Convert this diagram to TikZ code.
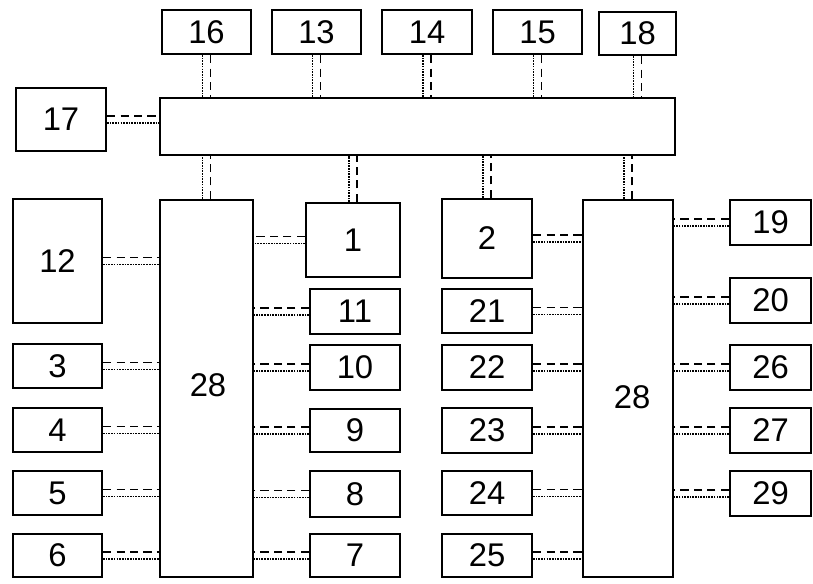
\documentclass[tikz,border=0pt]{standalone}
\usepackage{fontspec}
\setmainfont{Liberation Sans}
\usetikzlibrary{positioning}
\tikzset{
  unit/.style={rectangle, draw=black, line width=1.8pt, fill=white, inner sep=0pt,
               minimum width=2.7cm, minimum height=1.32cm,
               font=\fontsize{28}{32}\selectfont},
  edgeunit/.style={unit, minimum width=2.43cm, minimum height=1.35cm},
  hub/.style={unit, minimum width=2.79cm, minimum height=11.31cm},
  busbar/.style={unit, minimum width=15.45cm, minimum height=1.71cm},
  tag/.style={font=\fontsize{28}{32}\selectfont, inner sep=0pt},
  dashlink/.style={line width=1.3pt, dash pattern=on 7pt off 4.5pt},
  dotlink/.style={line width=1.3pt, dash pattern=on 1.4pt off 0.9pt},
}
% double line: dashed above, dotted below
\newcommand{\hpair}[2]{%
  \draw[dashlink] ([yshift=3pt]#1) -- ([yshift=3pt]#1 -| #2);
  \draw[dotlink] ([yshift=-3pt]#1) -- ([yshift=-3pt]#1 -| #2);}
% double line: dotted left, dashed right
\newcommand{\vpair}[2]{%
  \draw[dotlink] ([xshift=-3.5pt]#1) -- ([xshift=-3.5pt]#1 |- #2);
  \draw[dashlink] ([xshift=3.5pt]#1) -- ([xshift=3.5pt]#1 |- #2);}

\begin{document}
\begin{tikzpicture}[x=0.03cm, y=-0.03cm]
\useasboundingbox (0,0) rectangle (813,583);

% bus and top row
\node[busbar] (bus) at (417.5,126.5) {};
\node[unit, minimum width=2.67cm] (u16) at (206.5,32) {16};
\node[unit, minimum width=2.67cm] (u13) at (316.5,32) {13};
\node[unit] (u14) at (427,32) {14};
\node[unit, minimum width=2.67cm] (u15) at (537.5,32) {15};
\node[unit, minimum width=2.31cm, minimum height=1.29cm] (u18) at (637.5,33.5) {18};
\node[unit, minimum height=1.89cm] (u17) at (61,119.5) {17};

% left group
\node[hub] (hubL) at (206.5,388.5) {};
\node[tag] (tagL) at (208,385) {28};
\node[unit, minimum width=2.67cm, minimum height=3.72cm] (u12) at (57.5,261) {12};
\node[unit, minimum width=2.67cm] (u3) at (57.5,366) {3};
\node[unit, minimum width=2.67cm] (u4) at (57.5,430) {4};
\node[unit, minimum width=2.67cm] (u5) at (57.5,493) {5};
\node[unit, minimum width=2.67cm, minimum height=1.29cm] (u6) at (57.5,555.5) {6};

\node[unit, minimum width=2.82cm, minimum height=2.22cm] (u1) at (353,240) {1};
\node[unit, minimum height=1.35cm] (u11) at (355,311.5) {11};
\node[unit, minimum height=1.35cm] (u10) at (355,367.5) {10};
\node[unit, minimum height=1.29cm] (u9) at (355,430.5) {9};
\node[unit, minimum height=1.38cm] (u8) at (355,494) {8};
\node[unit, minimum height=1.29cm] (u7) at (355,555.5) {7};

% right group
\node[hub, minimum width=2.7cm] (hubR) at (628,388.5) {};
\node[tag] (tagR) at (632,397) {28};
\node[unit, minimum height=2.37cm] (u2) at (487,238.5) {2};
\node[unit] (u21) at (487,311) {21};
\node[unit, minimum height=1.35cm] (u22) at (487,367.5) {22};
\node[unit, minimum height=1.35cm] (u23) at (487,430.5) {23};
\node[unit] (u24) at (487,493) {24};
\node[unit, minimum height=1.29cm] (u25) at (487,555.5) {25};

\node[edgeunit] (u19) at (770.5,222.5) {19};
\node[edgeunit] (u20) at (770.5,300.5) {20};
\node[edgeunit] (u26) at (770.5,367.5) {26};
\node[edgeunit] (u27) at (770.5,430.5) {27};
\node[edgeunit] (u29) at (770.5,493.5) {29};

% links to the bus
\foreach \u in {u16,u13,u14,u15,u18} {
  \vpair{\u.south}{bus.north}
}
\foreach \u in {hubL,u1,u2,hubR} {
  \vpair{\u.north}{bus.south}
}
\hpair{u17.east}{bus.west}

% links to the hubs
\foreach \u in {u12,u3,u4,u5,u6} {
  \hpair{\u.east}{hubL.west}
}
\foreach \u in {u1,u11,u10,u9,u8,u7} {
  \hpair{\u.west}{hubL.east}
}
\foreach \u in {u2,u21,u22,u23,u24,u25} {
  \hpair{\u.east}{hubR.west}
}
\foreach \u in {u19,u20,u26,u27,u29} {
  \hpair{\u.west}{hubR.east}
}

\end{tikzpicture}
\end{document}
